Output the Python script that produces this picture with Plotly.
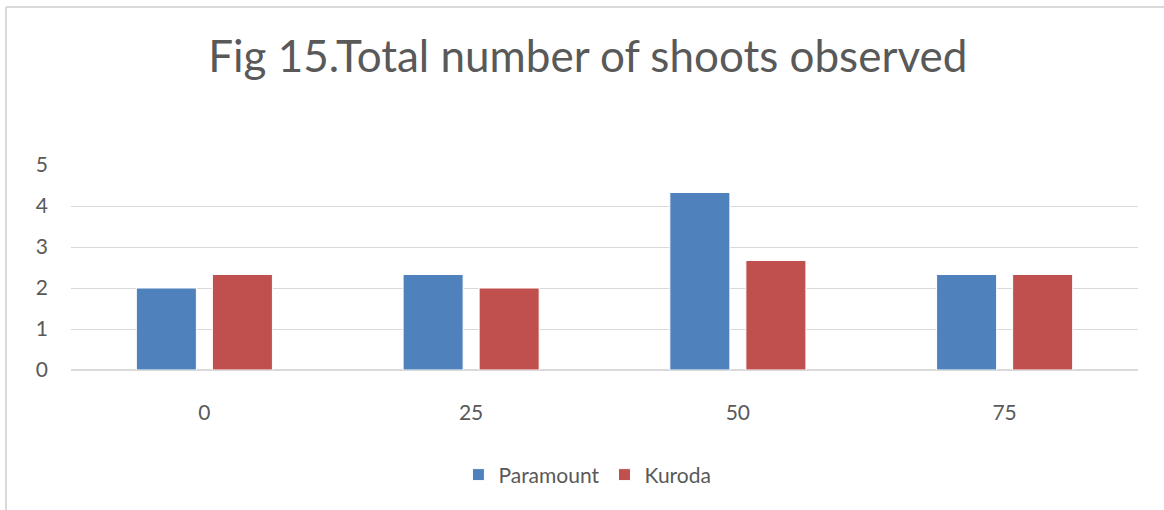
import plotly.graph_objects as go

categories = ["0", "25", "50", "75"]
paramount = [2.0, 2.33, 4.33, 2.33]
kuroda = [2.33, 2.0, 2.67, 2.33]

FONT = "Lato"
TXT = "#595959"

fig = go.Figure()
fig.add_trace(go.Bar(x=categories, y=paramount, name="Paramount",
                     marker=dict(color="#4f81bd", line=dict(color="#ffffff", width=1))))
fig.add_trace(go.Bar(x=categories, y=kuroda, name="Kuroda",
                     marker=dict(color="#c0504d", line=dict(color="#ffffff", width=1))))

fig.update_layout(
    width=1164, height=510,
    margin=dict(l=71, r=26, t=165, b=140),
    paper_bgcolor="white", plot_bgcolor="white",
    font=dict(family=FONT, color=TXT, size=21),
    title=dict(text="Fig 15.Total number of shoots observed", x=0.505, xanchor="center",
               y=0.89, yanchor="middle", font=dict(family=FONT, size=44, color=TXT)),
    barmode="group", bargap=0.43, bargroupgap=0.21,
    showlegend=True,
    legend=dict(orientation="h", x=0.484, xanchor="center", y=-0.512, yanchor="middle",
                font=dict(size=21, color=TXT), traceorder="normal"),
    xaxis=dict(type="category", showgrid=False, showline=True, linecolor="#d9d9d9", linewidth=1,
               ticks="", tickfont=dict(size=21, color=TXT), ticklabelstandoff=24),
    yaxis=dict(range=[0, 5], dtick=1, showgrid=True, gridcolor="#d9d9d9", gridwidth=1,
               zeroline=True, zerolinecolor="#d9d9d9", showline=False, ticks="",
               tickfont=dict(size=21, color=TXT), ticklabelstandoff=22),
    shapes=[
        dict(type="line", xref="paper", yref="paper", x0=-0.0609, x1=-0.0609, y0=1.7707, y1=-0.7,
             line=dict(color="#d9d9d9", width=2)),
        dict(type="line", xref="paper", yref="paper", x0=-0.0609, x1=1.03, y0=1.7707, y1=1.7707,
             line=dict(color="#d9d9d9", width=2)),
    ],
)

fig.write_html("out.html", config={"displayModeBar": False},
               post_script="document.body.style.margin='0';")
